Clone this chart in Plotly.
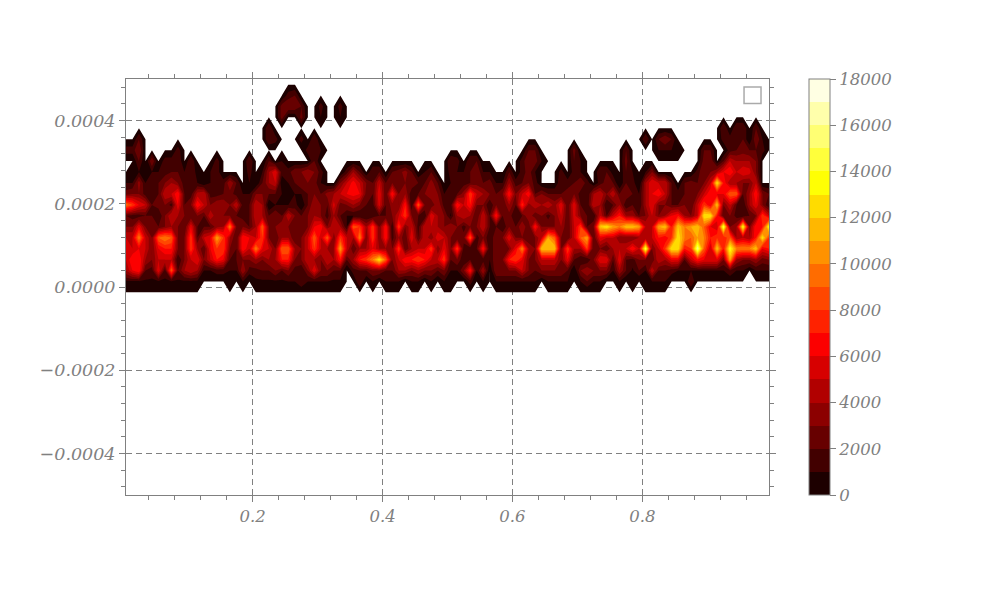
import numpy as np
import plotly.graph_objects as go

# Cell values in thousands; rows run upward, r00 is the lowest populated row. 100 columns.
r00 = [.8,.8,.8,.8,.8,.8,.8,.8,.8,.8,.8,.8,0,0,0,0,.8,0,1,0,.8,.8,.8,.8,.8,
       1,1,2,1,1,1,1,.8,.8,0,0,2,0,1,0,1,1,1,0,1,1,0,1,0,1,
       1,0,0,1.5,0,1,0,1,1,1,1,1,1,1,0,1,1,1,1,0,1,2,1,1,0,
       0,1,0,1,0,1,1,1,1,0,0,0,2,0,0,0,0,0,0,0,0,0,0,0,0]
r01 = [4,6,7,2,1.5,6,1.5,9,2,4,5,4,1,1,1.5,1.5,1,1,4,1.5,1.5,2,2,3,2,
       3,1.5,1,3,6,3,3,2,2,0,1.5,2,2,3,3,2,2,4,4,3,4,3,3,2,3,
       1,1,3,7,1,4,0,3,3,3,3,5,3,2,3,3,3,3,2,0,3,4,3,3,3,
       1,4,2,.8,2,1,5,2,2,1.5,1,1,1,1,1,1,1,1,2,1,1,0,1,1,1]
r02 = [5,7,7,4,3,5,5,5,1,3,5,6,3,5,7,6,2,2,3,3,4,3,4,4,7,
       7,3,3,5,4,3,5,4,7,2,4,7,8,10,13,9,3,5,7,7,8,7,5,5,8,
       2,3,1,2,1,1.5,1,3,3,7,8,6,3,3,5,5,5,3,6,2,1,1,3,6,6,
       2,6,2,1.5,3,3,2,5,4,6,6,2,5,7,6,6,6,3,11,4,3,3,4,2.5,3]
r03 = [6,5,6,5,3,6,7,7,3,3,8,4,2,6,8,8,3,2,7,5,10,6,5,3,9,
       9,4,3,5,8,5,4,4,11,5,2,4,4,6,4,4,3,8,2,4,5,5,8,3,6,
       3,8,1.5,1,2,7,1,3,3,3,6,10,4,3,12,12,12,3,8,4,4,8,2,3,2,
       4,5,5,7,5,15,3,5,8,13,13,7,8,16,9,5,12,7,14,10,10,10,12,6,7]
r04 = [5,5,10,5,3,9,10,9,3,3,8,2,5,6,11,8,4,2,7,6,5,8,3,2,4,
       4,2,3,5,9,5,9,3,8,5,4,10,3,8,3,7,1.5,4,2,6,2,5,3,6,5,
       3,2,2.5,9,1.5,3,1,3,3,6,3,3,2,3,5,11,9,3,2,5,9,11,2,6,5,
       5,3,3,3,4,4,5,7,6,8,13,10,9,11,10,7,8,7,9,4,5,4,7,13,8]
r05 = [3,3,6,3,3,2,3,4,3,2,6,2,2,2,3.5,4,10,3,3,2,4,9,3,3,4,
       3,2,3,3,6,7,3,5,4,1,9,8,4,8,3,7,1,8,3,5,1.5,5,5,4,3,
       4,3,1.5,3,3,5,2,2,1,3,2,4,2,7,3,3,3,4,2,5,8,2,3,12,13,
       11,10,12,12,11,5,5,11,12,7,12,10,11,12,9,6,5,15,3,4,14,3,7,7,14]
r06 = [2,1.5,1.5,2,2,1,3,5,4,3,2,3,2,5,3,3,3,2,1.5,2,5,4,2,3,2,
       5,3,2,3,4,3,1.5,4,2,1,1,1,1,1,2,2,3,5,8,3,2,1,6,4,3,
       .8,4,5,4,2,5,2,7,2,2.5,1,2,4,2,3,1.5,3,5,2,5.5,3,2,1,5,2,
       5,7,4,4,2,3,5,3,4,6,7,4,3,5,13,13,7,2,3,1.5,1,2,3,8,5]
r07 = [9.5,8,6,5,2,2.5,3,1.5,6,2,3,7,5,3,4,4,3,5,1.5,2,5,4,0,1,1,
       1,1.5,0,2,4,3,2,5.5,2.5,3,4,3,2,1.5,5.5,2,3.5,3,7,1,9,3,2,4,1.5,
       1.5,7,5,7,3,3,1,3,2,4,2,7.5,3.5,5,4,5,3.5,6,2,6,2,1,5,4,1,
       2,4,1,2,1,4,6,3,3,2,2,3,2,5,8,6,12,3,5,2,1,4,6,3,1]
r08 = [2.5,3,3,1.5,1.5,2,5,5,7,2,1.5,4.5,5,1.5,1.5,2,2.5,1.5,1,1,3,3,2,2,1,
       .5,1,1,2,3,2,3.5,4,5,6,6.5,6,2.5,2,6,2,7,3,4,1,2,3,4,3,1,
       1.5,2,3.5,8,5,4,3,2,3,7,3,5,7,2,3,2,2,2,2.5,3,1.5,1,4,5,3,
       5,2,3,2,1,4,6,7,5,2,1.5,2,3,3,5,7,6,6,9,9,2,4,7,3,2]
r09 = [1,1,3.5,1,1.5,2,3,4,3,1.5,1.5,1,0,1,1.5,1.5,4,2,0,1,0,2,4,5,0,
       1,2,3,3,2.5,1,0,0,3,5,6.5,5,3,2,5,2,3,3,3,3,2,2,3.5,2,0,
       1,1.5,1.5,2,2.5,2,2.5,1,1,4,1.5,2,3,1.5,0,0,0,2,1.5,2,3,1.5,0,1.5,2.5,
       2,0,2,1.5,0,4,6,5,5,2,0,2,2.5,2,3,5,13,7,4,4,3,3,5,0,0]
r10 = [0,1,1,1,1,1,1.5,2,2,1,2,.5,0,1,1.5,0,0,0,0,1.5,0,1,4,6,1.5,
       1.5,3,3,4,3,1.5,0,0,0,1.5,4,2,0,2,2,0,2,2.5,3.5,2,0,1,2,0,0,
       1.5,1,1,2,3,1,1,0,0,2,0,1.5,2.5,1,0,0,0,1.5,0,1.5,1,0,0,2,2,
       .5,0,2,1,0,1,3,0,0,0,0,0,0,1.5,3,3,4,6,7,5,6,5.5,3,0,0]
r11 = [0,0,2,0,3,0,1.5,1.5,2,0,2,0,0,0,1.5,0,0,0,0,2,0,0,2,0,1,
       0,0,0,0,2,0,0,0,0,0,0,0,0,0,0,0,0,0,0,0,0,0,0,0,0,
       2,1.5,0,2,2,0,0,0,0,0,0,1.5,3,2.5,1,0,0,0,0,2,1,0,0,0,0,
       0,0,2.5,0,0,0,0,0,0,0,0,0,0,0,2.5,3,0,2,5,4,4,4,3,0,0]
r12 = [1.5,1.5,3,0,0,0,0,0,1.5,0,0,0,0,0,0,0,0,0,0,0,0,0,0,0,0,
       0,0,0,1.5,1.5,1,0,0,0,0,0,0,0,0,0,0,0,0,0,0,0,0,0,0,0,
       0,0,0,0,0,0,0,0,0,0,0,0,2,2,0,0,0,0,0,2.5,0,0,0,0,0,
       0,0,2,0,0,0,0,1,1,1,1,0,0,0,2,2,0,0,1.5,2,2.5,2,2,1.5,0]
r13 = [0,0,2,0,0,0,0,0,0,0,0,0,0,0,0,0,0,0,0,0,0,0,2,1.5,0,
       0,0,1.5,0,2,0,0,0,0,0,0,0,0,0,0,0,0,0,0,0,0,0,0,0,0,
       0,0,0,0,0,0,0,0,0,0,0,0,0,0,0,0,0,0,0,0,0,0,0,0,0,
       0,0,0,0,0,2,0,2,3,2,0,0,0,0,0,0,0,1.5,1.5,2,2,0,3,1,0]
r14 = [0,0,0,0,0,0,0,0,0,0,0,0,0,0,0,0,0,0,0,0,0,0,2,0,0,
       0,0,0,0,0,0,0,0,0,0,0,0,0,0,0,0,0,0,0,0,0,0,0,0,0,
       0,0,0,0,0,0,0,0,0,0,0,0,0,0,0,0,0,0,0,0,0,0,0,0,0,
       0,0,0,0,0,0,0,0,0,0,0,0,0,0,0,0,0,2,0,2,2,0,2,0,0]
r15 = [0,0,0,0,0,0,0,0,0,0,0,0,0,0,0,0,0,0,0,0,0,0,0,0,2.5,
       0,0,2.5,0,0,1,0,0,1,0,0,0,0,0,0,0,0,0,0,0,0,0,0,0,0,
       0,0,0,0,0,0,0,0,0,0,0,0,0,0,0,0,0,0,0,0,0,0,0,0,0,
       0,0,0,0,0,0,0,0,0,0,0,0,0,0,0,0,0,0,0,0,0,0,0,0,0]
r16 = [0,0,0,0,0,0,0,0,0,0,0,0,0,0,0,0,0,0,0,0,0,0,0,0,2.5,
       3,3,2,0,0,1.5,0,0,1.5,0,0,0,0,0,0,0,0,0,0,0,0,0,0,0,0,
       0,0,0,0,0,0,0,0,0,0,0,0,0,0,0,0,0,0,0,0,0,0,0,0,0,
       0,0,0,0,0,0,0,0,0,0,0,0,0,0,0,0,0,0,0,0,0,0,0,0,0]
r17 = [0,0,0,0,0,0,0,0,0,0,0,0,0,0,0,0,0,0,0,0,0,0,0,0,0,
       1.5,2,0,0,0,0,0,0,0,0,0,0,0,0,0,0,0,0,0,0,0,0,0,0,0,
       0,0,0,0,0,0,0,0,0,0,0,0,0,0,0,0,0,0,0,0,0,0,0,0,0,
       0,0,0,0,0,0,0,0,0,0,0,0,0,0,0,0,0,0,0,0,0,0,0,0,0]

zero_row = [0] * 100
rows = [zero_row, r00, r01, r02, r03, r04, r05, r06, r07, r08, r09, r10, r11,
        r12, r13, r14, r15, r16, r17, zero_row]
z = np.array(rows, dtype=float) * 1000

x_centers = 0.005 + 0.01 * np.arange(100)
row_step = 0.001 / 38
y_centers = (np.arange(len(rows)) - 0.5) * row_step

GRAY = "#808080"
FONT = dict(family="DejaVu Serif", size=16.5, color=GRAY, style="italic")
YFONT = dict(family="DejaVu Serif", size=17.5, color=GRAY, style="italic")
N_BANDS = 18
VMAX = 18000


def hot(t):
    r = min(1.0, 0.0416 + 0.9584 * t / 0.365)
    g = min(1.0, max(0.0, (t - 0.365) / 0.381))
    b = min(1.0, max(0.0, (t - 0.746) / 0.254))
    return f"rgb({int(r*255)},{int(g*255)},{int(b*255)})"


bands = [hot((k + 0.5) / N_BANDS) for k in range(N_BANDS)]

contour_scale = [[0, "rgba(255,255,255,0)"]] + [
    [(k + 1) / N_BANDS, bands[k]] for k in range(N_BANDS)
]
bar_scale = []
for k in range(N_BANDS):
    bar_scale += [[k / N_BANDS, bands[k]], [(k + 1) / N_BANDS, bands[k]]]

L, R, T, B = 125.5, 769.5, 78.5, 495.5

fig = go.Figure()
fig.add_trace(go.Contour(
    x=x_centers, y=y_centers, z=z,
    autocontour=False,
    contours=dict(start=1, end=17001, size=1000, coloring="fill", showlines=False),
    line=dict(width=0, smoothing=0),
    colorscale=contour_scale,
    showscale=False,
    hoverinfo="skip",
))
fig.add_trace(go.Scatter(
    x=[None], y=[None], mode="markers", showlegend=False,
    marker=dict(
        color=[0], cmin=0, cmax=VMAX, colorscale=bar_scale, showscale=True,
        colorbar=dict(
            x=(809.5 - L) / (R - L), xanchor="left", xpad=0, ypad=0,
            y=0.5, yanchor="middle", len=1, lenmode="fraction",
            thickness=21, thicknessmode="pixels",
            outlinecolor=GRAY, outlinewidth=1,
            tick0=0, dtick=2000, ticks="outside", ticklen=6, tickcolor=GRAY,
            tickfont=FONT, tickformat="d",
        ),
    ),
))

axis_common = dict(
    showline=True, linecolor=GRAY, linewidth=1, mirror="allticks",
    ticks="outside", ticklen=6, tickcolor=GRAY,
    showgrid=True, gridcolor=GRAY, griddash="6px,4px", gridwidth=1,
    zeroline=False,
)
fig.update_xaxes(
    range=[0.005, 0.995], tick0=0, dtick=0.2, tickformat=".1f", tickfont=FONT,
    minor=dict(tick0=0, dtick=0.04, ticks="outside", ticklen=4, tickcolor=GRAY, showgrid=False),
    **axis_common,
)
fig.update_yaxes(
    range=[-0.0005, 0.0005], tick0=0, dtick=0.0002, tickformat=".4f", tickfont=YFONT,
    minor=dict(tick0=0, dtick=0.00004, ticks="outside", ticklen=4, tickcolor=GRAY, showgrid=False),
    **axis_common,
)

# Empty legend box in the upper right corner of the axes
fig.add_shape(
    type="rect", xref="paper", yref="paper", layer="above",
    x0=(744.5 - L) / (R - L), x1=(761.5 - L) / (R - L),
    y0=1 - (103 - T) / (B - T), y1=1 - (86.5 - T) / (B - T),
    line=dict(color="#aaaaaa", width=1.5), fillcolor="white",
)

fig.update_layout(
    width=1000, height=600, autosize=False,
    margin=dict(l=L, r=1000 - R, t=T, b=600 - B, pad=0, autoexpand=False),
    paper_bgcolor="white", plot_bgcolor="white",
    showlegend=False,
)

fig.write_html("out.html", config=dict(displayModeBar=False),
               post_script="document.body.style.margin='0';")
